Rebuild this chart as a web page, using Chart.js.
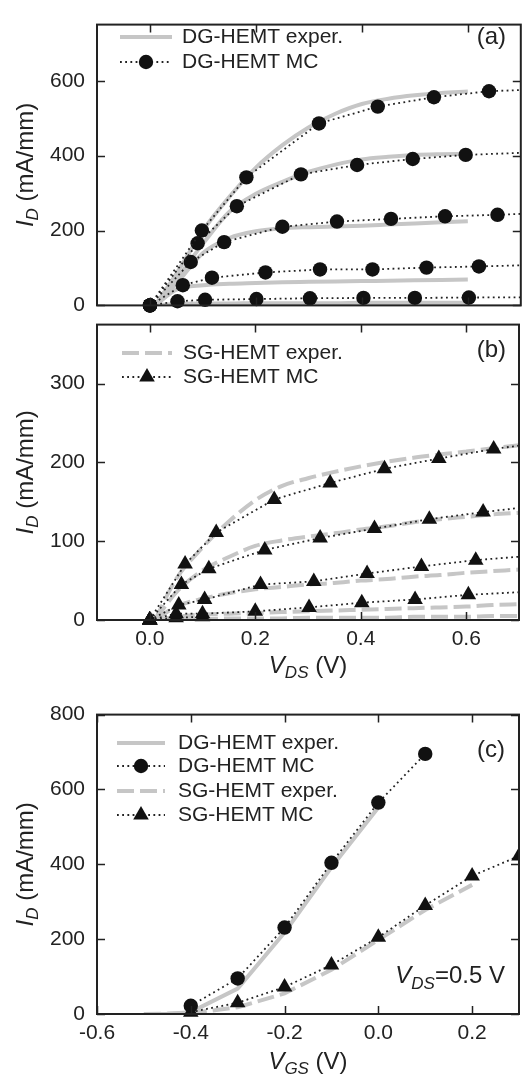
<!DOCTYPE html>
<html>
<head>
<meta charset="utf-8">
<script src="https://cdn.jsdelivr.net/npm/chart.js@4"></script>
<style>
  html, body { margin: 0; padding: 0; background: #fff; }
  body { width: 528px; height: 1085px; position: relative; overflow: hidden; }
  canvas { position: absolute; left: 0; }
  #chartA { top: 0; }
  #chartB { top: 300px; }
  #chartC { top: 690px; }
</style>
</head>
<body>
<canvas id="chartA" width="528" height="330"></canvas>
<canvas id="chartB" width="528" height="390"></canvas>
<canvas id="chartC" width="528" height="395"></canvas>
<script>
// ---- panel (a): DG-HEMT, I_D vs V_DS ----
const labelsA = ["DG-HEMT exper.", "DG-HEMT MC"];
const vdsExpA = [0.01, 0.05, 0.1, 0.15, 0.2, 0.25, 0.3, 0.35, 0.4, 0.45, 0.5, 0.55, 0.6];
const idExpA1 = [0, 85, 200, 290, 368, 428, 476, 512, 538, 552, 561, 567, 571];
const idExpA2 = [0, 70, 165, 250, 298, 330, 357, 376, 390, 397, 402, 404, 405];
const idExpA3 = [0, 58, 140, 180, 198, 206, 209, 211, 213, 216, 219, 222, 225];
const idExpA4 = [0, 42, 54, 58, 60, 62, 63, 64, 65, 66, 67, 68, 69];
const idExpA5 = [0, 4, 5, 5, 6, 6, 6, 6, 7, 7, 7, 7, 7];

const vdsMcA1 = [0, 0.098, 0.182, 0.319, 0.43, 0.536, 0.64, 0.75];
const idMcA1 = [0, 200, 342, 486, 531, 556, 572, 578];
const vdsMcA2 = [0, 0.09, 0.164, 0.285, 0.391, 0.496, 0.596, 0.75];
const idMcA2 = [0, 166, 265, 350, 375, 391, 402, 410];
const vdsMcA3 = [0, 0.077, 0.14, 0.25, 0.353, 0.455, 0.557, 0.656, 0.75];
const idMcA3 = [0, 116, 169, 210, 224, 231, 238, 242, 247];
const vdsMcA4 = [0, 0.062, 0.117, 0.218, 0.321, 0.42, 0.522, 0.621, 0.75];
const idMcA4 = [0, 54, 74, 88, 96, 96, 101, 104, 109];
const vdsMcA5 = [0, 0.052, 0.104, 0.201, 0.302, 0.403, 0.5, 0.602, 0.75];
const idMcA5 = [0, 11, 15, 17, 19, 20, 20, 21, 22];

// ---- panel (b): SG-HEMT, I_D vs V_DS ----
const labelsB = ["SG-HEMT exper.", "SG-HEMT MC"];
const vdsExpB = [0.01, 0.05, 0.1, 0.15, 0.2, 0.25, 0.3, 0.35, 0.4, 0.45, 0.5, 0.55, 0.6, 0.65, 0.7];
const idExpB1 = [0, 52, 92, 125, 152, 170, 180, 188, 195, 201, 206, 210, 214, 218, 222];
const idExpB2 = [0, 35, 63, 80, 94, 101, 106, 110, 115, 119, 124, 128, 131, 134, 136];
const idExpB3 = [0, 17, 27, 34, 39, 42, 45, 47, 50, 52, 55, 57, 60, 62, 64];
const idExpB4 = [0, 4, 7, 8, 9, 10, 11, 12, 13, 14, 15, 16, 17, 19, 20];
const idExpB5 = [0, 1, 1, 2, 2, 2, 3, 3, 3, 3, 4, 4, 4, 5, 5];

const vdsMcB1 = [0, 0.067, 0.126, 0.236, 0.342, 0.445, 0.548, 0.652, 0.75];
const idMcB1 = [0, 71, 111, 153, 174, 192, 205, 217, 226];
const vdsMcB2 = [0, 0.06, 0.112, 0.218, 0.323, 0.426, 0.53, 0.632, 0.75];
const idMcB2 = [0, 45, 65, 89, 104, 116, 128, 137, 146];
const vdsMcB3 = [0, 0.055, 0.104, 0.21, 0.311, 0.412, 0.515, 0.618, 0.75];
const idMcB3 = [0, 19, 26, 45, 49, 59, 68, 76, 83];
const vdsMcB4 = [0, 0.05, 0.1, 0.2, 0.302, 0.402, 0.503, 0.604, 0.75];
const idMcB4 = [0, 8, 8, 11, 16, 22, 26, 32, 37];
const vdsMcB5 = [0, 0.05, 0.1];
const idMcB5 = [0, 3, 4];

// ---- panel (c): I_D vs V_GS at V_DS = 0.5 V ----
const labelsC = ["DG-HEMT exper.", "DG-HEMT MC", "SG-HEMT exper.", "SG-HEMT MC"];
const vgsExpDG = [-0.5, -0.45, -0.4, -0.3, -0.2, -0.1, 0.0];
const idExpDG = [0, 1, 5, 68, 218, 392, 552];
const vgsMcDG = [-0.4, -0.3, -0.2, -0.1, 0.0, 0.1];
const idMcDG = [22, 95, 231, 404, 565, 695];
const vgsExpSG = [-0.5, -0.4, -0.3, -0.2, -0.1, 0.0, 0.1, 0.2];
const idExpSG = [0, 2, 18, 55, 118, 198, 278, 345];
const vgsMcSG = [-0.4, -0.3, -0.2, -0.1, 0.0, 0.1, 0.2, 0.3];
const idMcSG = [5, 30, 72, 131, 205, 290, 369, 422];

const GRAY = "#c6c6c6";
const INK = "#222";
const FONT = '"Liberation Sans", Arial, Helvetica, sans-serif';

function pts(xs, ys) {
  return xs.map((x, i) => ({ x: x, y: ys[i] }));
}

function expLine(xs, ys, dashed, smooth) {
  return {
    data: pts(xs, ys),
    borderColor: GRAY,
    borderWidth: 4,
    borderDash: dashed ? [17, 6] : [],
    pointRadius: 0,
    cubicInterpolationMode: smooth ? "monotone" : "default",
    tension: 0,
    fill: false,
    order: 2
  };
}

function mcLine(xs, ys, style) {
  return {
    data: pts(xs, ys),
    borderColor: "#222",
    borderWidth: 1.8,
    borderDash: [1.8, 3.4],
    pointStyle: style,
    pointRadius: style === "triangle" ? 9 : 7.2,
    pointBackgroundColor: "#111",
    pointBorderColor: "#111",
    pointBorderWidth: 0,
    tension: 0,
    fill: false,
    order: 1,
    clip: { left: 12, top: 12, right: 0, bottom: 12 }
  };
}

const isMajor = (v, m) => Math.abs(v / m - Math.round(v / m)) < 1e-6;

function tickBuilder(step) {
  return scale => {
    const out = [];
    const i0 = Math.ceil(scale.min / step - 1e-6);
    const i1 = Math.floor(scale.max / step + 1e-6);
    for (let i = i0; i <= i1; i++) out.push({ value: +(i * step).toFixed(6) });
    scale.ticks = out;
  };
}

function axis(min, max, minor, major, digits, showLabels, size, horizontal) {
  return {
    type: "linear",
    min: min,
    max: max,
    grid: { display: false, drawTicks: false },
    border: { display: false },
    afterBuildTicks: tickBuilder(minor),
    afterFit: s => { if (horizontal) s.height = size; else s.width = size; },
    ticks: {
      display: showLabels,
      autoSkip: false,
      maxRotation: 0,
      padding: horizontal ? 7 : 12,
      color: INK,
      font: { family: FONT, size: 21 },
      callback: v => isMajor(v, major) ? v.toFixed(digits) : null
    }
  };
}

// rich text: parts = [{t, s, it, dy}]
function drawRich(ctx, parts, x, y, align) {
  const fontOf = p => (p.it ? "italic " : "") + p.s + "px " + FONT;
  let w = 0;
  parts.forEach(p => { ctx.font = fontOf(p); w += ctx.measureText(p.t).width; });
  let cx = align === "center" ? x - w / 2 : align === "right" ? x - w : x;
  ctx.textAlign = "left";
  parts.forEach(p => {
    ctx.font = fontOf(p);
    ctx.fillText(p.t, cx, y + (p.dy || 0));
    cx += ctx.measureText(p.t).width;
  });
}

function marker(ctx, style, r, x, y) {
  ctx.fillStyle = "#111";
  ctx.beginPath();
  if (style === "triangle") {
    for (let k = 0; k < 3; k++) {
      const ang = k * 2 * Math.PI / 3;
      ctx.lineTo(x + Math.sin(ang) * r, y - Math.cos(ang) * r);
    }
    ctx.closePath();
  } else {
    ctx.arc(x, y, r, 0, 2 * Math.PI);
  }
  ctx.fill();
}

const yTitle = [{ t: "I", s: 24, it: true }, { t: "D", s: 17, it: true, dy: 5 }, { t: " (mA/mm)", s: 24 }];
const xTitleDS = [{ t: "V", s: 24, it: true }, { t: "DS", s: 17, it: true, dy: 5 }, { t: " (V)", s: 24 }];
const xTitleGS = [{ t: "V", s: 24, it: true }, { t: "GS", s: 17, it: true, dy: 5 }, { t: " (V)", s: 24 }];

// frame with inward ticks, legend, panel tag and axis titles
const decor = {
  id: "decor",
  afterDraw(chart, args, o) {
    const ctx = chart.ctx;
    const a = chart.chartArea;
    const xs = chart.scales.x, ys = chart.scales.y;
    ctx.save();
    ctx.strokeStyle = INK;
    ctx.lineWidth = 1.5;
    ctx.beginPath();
    xs.ticks.forEach(t => {
      const px = Math.round(xs.getPixelForValue(t.value)) + 0.5;
      const len = isMajor(t.value, o.xMajor) ? 8 : 5;
      ctx.moveTo(px, a.top); ctx.lineTo(px, a.top + len);
      ctx.moveTo(px, a.bottom); ctx.lineTo(px, a.bottom - len);
    });
    ys.ticks.forEach(t => {
      const py = Math.round(ys.getPixelForValue(t.value)) + 0.5;
      const len = isMajor(t.value, o.yMajor) ? 8 : 5;
      ctx.moveTo(a.left, py); ctx.lineTo(a.left + len, py);
      ctx.moveTo(a.right, py); ctx.lineTo(a.right - len, py);
    });
    ctx.stroke();
    ctx.lineWidth = 2;
    ctx.strokeRect(a.left, a.top, a.right - a.left, a.bottom - a.top);

    // legend
    const lg = o.legend;
    ctx.textBaseline = "middle";
    lg.items.forEach((it, i) => {
      const ds = chart.data.datasets[it.ds];
      const y = lg.rows[i];
      ctx.setLineDash(ds.borderDash || []);
      ctx.lineWidth = ds.borderWidth;
      ctx.strokeStyle = ds.borderColor;
      ctx.beginPath();
      ctx.moveTo(lg.x0, y); ctx.lineTo(lg.x1, y);
      ctx.stroke();
      ctx.setLineDash([]);
      if (ds.pointRadius) marker(ctx, ds.pointStyle, ds.pointRadius, (lg.x0 + lg.x1) / 2, y);
      ctx.fillStyle = INK;
      ctx.font = "21px " + FONT;
      ctx.textAlign = "left";
      ctx.fillText(it.label, lg.tx, y);
    });

    // panel tag
    ctx.fillStyle = INK;
    ctx.font = "24px " + FONT;
    ctx.textAlign = "right";
    ctx.fillText(o.tag, o.tagX, o.tagY);

    // axis titles
    ctx.textBaseline = "alphabetic";
    ctx.save();
    ctx.translate(33, (a.top + a.bottom) / 2);
    ctx.rotate(-Math.PI / 2);
    drawRich(ctx, yTitle, 0, 0, "center");
    ctx.restore();
    if (o.xTitle) drawRich(ctx, o.xTitle, (a.left + a.right) / 2, o.xTitleY, "center");
    if (o.note) drawRich(ctx, o.note.parts, o.note.x, o.note.y, "right");
    ctx.restore();
  }
};

function baseOptions(padTop, xAxis, yAxis, decorOpts) {
  return {
    responsive: false,
    animation: false,
    devicePixelRatio: 1,
    layout: { padding: { top: padTop, right: 7, left: 0, bottom: 0 } },
    plugins: { legend: { display: false }, tooltip: { enabled: false }, decor: decorOpts },
    scales: { x: xAxis, y: yAxis }
  };
}

new Chart(document.getElementById("chartA"), {
  type: "line",
  data: {
    datasets: [
      expLine(vdsExpA, idExpA1, false, true),
      expLine(vdsExpA, idExpA2, false, true),
      expLine(vdsExpA, idExpA3, false, true),
      expLine(vdsExpA, idExpA4, false, true),
      expLine(vdsExpA, idExpA5, false, true),
      mcLine(vdsMcA1, idMcA1, "circle"),
      mcLine(vdsMcA2, idMcA2, "circle"),
      mcLine(vdsMcA3, idMcA3, "circle"),
      mcLine(vdsMcA4, idMcA4, "circle"),
      mcLine(vdsMcA5, idMcA5, "circle")
    ]
  },
  options: baseOptions(5,
    axis(-0.1, 0.7, 0.04, 0.2, 1, false, 18, true),
    axis(0, 750, 40, 200, 0, true, 97, false),
    {
      xMajor: 0.2, yMajor: 200,
      legend: { x0: 120, x1: 172, tx: 182, rows: [37, 62],
        items: [{ ds: 0, label: labelsA[0] }, { ds: 5, label: labelsA[1] }] },
      tag: "(a)", tagX: 506, tagY: 37
    }),
  plugins: [decor]
});

new Chart(document.getElementById("chartB"), {
  type: "line",
  data: {
    datasets: [
      expLine(vdsExpB, idExpB1, true, true),
      expLine(vdsExpB, idExpB2, true, true),
      expLine(vdsExpB, idExpB3, true, true),
      expLine(vdsExpB, idExpB4, true, true),
      expLine(vdsExpB, idExpB5, true, true),
      mcLine(vdsMcB1, idMcB1, "triangle"),
      mcLine(vdsMcB2, idMcB2, "triangle"),
      mcLine(vdsMcB3, idMcB3, "triangle"),
      mcLine(vdsMcB4, idMcB4, "triangle"),
      mcLine(vdsMcB5, idMcB5, "triangle")
    ]
  },
  options: baseOptions(12,
    axis(-0.1, 0.7, 0.04, 0.2, 1, true, 70, true),
    axis(0, 375, 20, 100, 0, true, 97, false),
    {
      xMajor: 0.2, yMajor: 100,
      legend: { x0: 122, x1: 172, tx: 183, rows: [53, 77],
        items: [{ ds: 0, label: labelsB[0] }, { ds: 5, label: labelsB[1] }] },
      tag: "(b)", tagX: 506, tagY: 50,
      xTitle: xTitleDS, xTitleY: 373
    }),
  plugins: [decor]
});

new Chart(document.getElementById("chartC"), {
  type: "line",
  data: {
    datasets: [
      expLine(vgsExpDG, idExpDG, false, false),
      mcLine(vgsMcDG, idMcDG, "circle"),
      expLine(vgsExpSG, idExpSG, true, false),
      mcLine(vgsMcSG, idMcSG, "triangle")
    ]
  },
  options: baseOptions(19,
    axis(-0.6, 0.3, 0.04, 0.2, 1, true, 71, true),
    axis(0, 800, 40, 200, 0, true, 97, false),
    {
      xMajor: 0.2, yMajor: 200,
      legend: { x0: 117, x1: 165, tx: 178, rows: [53, 76, 101, 125],
        items: [{ ds: 0, label: labelsC[0] }, { ds: 1, label: labelsC[1] },
                { ds: 2, label: labelsC[2] }, { ds: 3, label: labelsC[3] }] },
      tag: "(c)", tagX: 505, tagY: 60,
      xTitle: xTitleGS, xTitleY: 379,
      note: { x: 505, y: 293, parts: [{ t: "V", s: 24, it: true }, { t: "DS", s: 17, it: true, dy: 6 }, { t: "=0.5 V", s: 24 }] }
    }),
  plugins: [decor]
});
</script>
</body>
</html>
